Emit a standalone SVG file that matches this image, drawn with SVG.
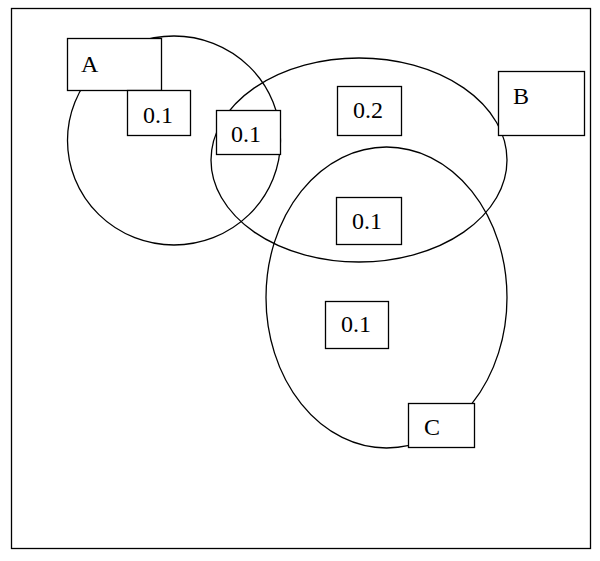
<svg xmlns="http://www.w3.org/2000/svg" width="600" height="561" viewBox="0 0 600 561">
<style>
.set{fill:none;stroke:#000;stroke-width:1.3}
.box{fill:#fff;stroke:#000;stroke-width:1.3}
.t{font-family:"Liberation Serif","Times New Roman",serif;font-size:24px;fill:#000}
.m{text-anchor:middle}
</style>
<rect x="0" y="0" width="600" height="561" fill="#fff"/>
<rect id="frame" x="11.5" y="8.5" width="579" height="540" fill="none" stroke="#000" stroke-width="1.3"/>
<g id="sets">
<ellipse id="setA" class="set" cx="174" cy="140.5" rx="106.5" ry="104.5"/>
<ellipse id="setB" class="set" cx="359" cy="160" rx="148" ry="102"/>
<ellipse id="setC" class="set" cx="386.5" cy="297.5" rx="120.5" ry="150.5"/>
</g>
<g id="labelA"><rect class="box" x="67.5" y="38.5" width="94" height="52"/><text class="t" x="81" y="72">A</text></g>
<g id="labelB"><rect class="box" x="498.5" y="71.5" width="86" height="64"/><text class="t" x="513" y="104">B</text></g>
<g id="labelC"><rect class="box" x="408.5" y="403.5" width="66" height="44"/><text class="t" x="424" y="435">C</text></g>
<g id="rA"><rect class="box" x="127.5" y="90.5" width="63" height="45"/><text class="t m" x="158" y="123">0.1</text></g>
<g id="rAB"><rect class="box" x="216.5" y="110.5" width="64" height="44"/><text class="t m" x="246" y="142">0.1</text></g>
<g id="rB"><rect class="box" x="337.5" y="86.5" width="64" height="49"/><text class="t m" x="368" y="118">0.2</text></g>
<g id="rBC"><rect class="box" x="336.5" y="197.5" width="65" height="47"/><text class="t m" x="367" y="229">0.1</text></g>
<g id="rC"><rect class="box" x="325.5" y="301.5" width="63" height="47"/><text class="t m" x="356" y="332">0.1</text></g>
</svg>
